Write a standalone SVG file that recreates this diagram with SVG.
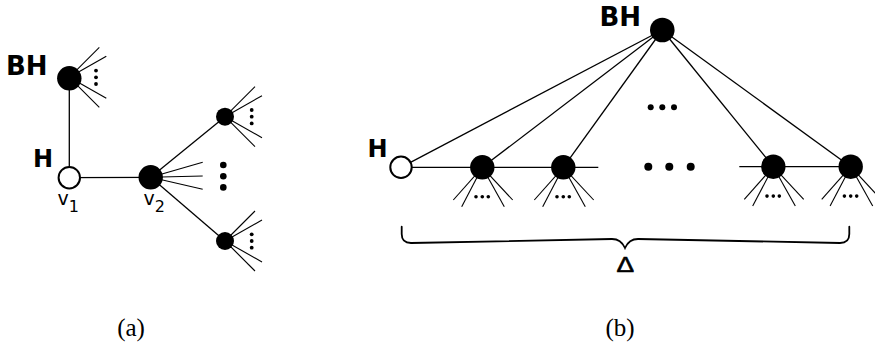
<svg xmlns="http://www.w3.org/2000/svg" width="875" height="344" viewBox="0 0 875 344">
  <style>
    .edge { stroke: #000; stroke-width: 1.3; fill: none; }
    .fan { stroke: #000; stroke-width: 1.1; fill: none; }
    .node { fill: #000; }
    .hole { fill: #fff; stroke: #000; stroke-width: 2; }
    .dot { fill: #000; }
    .lbl { font-family: "DejaVu Sans", sans-serif; font-weight: bold; font-size: 26px; fill: #000; }
    .lblh { font-family: "DejaVu Sans", sans-serif; font-weight: bold; font-size: 24px; fill: #000; }
    .vl { font-family: "DejaVu Sans", sans-serif; font-size: 19px; fill: #000; }
    .sub { font-family: "DejaVu Sans", sans-serif; font-size: 16px; fill: #000; }
    .cap { font-family: "Liberation Serif", serif; font-size: 25px; fill: #000; }
    .brace { stroke: #000; stroke-width: 1.8; fill: none; stroke-linecap: round; }
    .delta { font-family: "Liberation Sans", sans-serif; font-size: 22px; fill: #000; stroke: #000; stroke-width: 0.6; }
  </style>
  <defs>
    <!-- fan of four half-edges opening to the right, with a vertical ellipsis -->
    <g id="fanR">
      <line class="fan" x1="0" y1="0" x2="30" y2="-30"/>
      <line class="fan" x1="0" y1="0" x2="37" y2="-21"/>
      <line class="fan" x1="0" y1="0" x2="37" y2="21"/>
      <line class="fan" x1="0" y1="0" x2="30" y2="30"/>
      <circle class="dot" cx="26.7" cy="-6.7" r="1.9"/>
      <circle class="dot" cx="26.7" cy="0" r="1.9"/>
      <circle class="dot" cx="26.7" cy="6.7" r="1.9"/>
    </g>
    <!-- fan of four half-edges opening downward, with a horizontal ellipsis -->
    <g id="fanD">
      <line class="fan" x1="0" y1="0" x2="-29" y2="32.7"/>
      <line class="fan" x1="0" y1="0" x2="-20.6" y2="39.4"/>
      <line class="fan" x1="0" y1="0" x2="22" y2="39.4"/>
      <line class="fan" x1="0" y1="0" x2="30.4" y2="32.7"/>
      <circle class="dot" cx="-6.3" cy="29.4" r="1.8"/>
      <circle class="dot" cx="0" cy="29.4" r="1.8"/>
      <circle class="dot" cx="6" cy="29.4" r="1.8"/>
    </g>
  </defs>

  <!-- (a) connectors -->
  <g id="edges-a">
    <line class="edge" x1="69.3" y1="78.3" x2="69.3" y2="177.7"/>
    <line class="edge" x1="69.3" y1="177.7" x2="150.7" y2="177.3"/>
    <line class="edge" x1="150.7" y1="177.3" x2="225" y2="116.7"/>
    <line class="edge" x1="150.7" y1="177.3" x2="225" y2="241"/>
    <line class="fan" x1="150.7" y1="177.3" x2="202.7" y2="162.3"/>
    <line class="fan" x1="150.7" y1="177.3" x2="202.7" y2="176"/>
    <line class="fan" x1="150.7" y1="177.3" x2="202.7" y2="189.3"/>
    <use href="#fanR" x="69.3" y="77.3"/>
    <use href="#fanR" x="225" y="116.7"/>
    <use href="#fanR" x="225" y="241"/>
  </g>

  <!-- (a) nodes -->
  <g id="a-bh">
    <circle class="node" cx="69.3" cy="78.3" r="12.2"/>
    <text class="lbl" x="6" y="75">BH</text>
  </g>
  <g id="a-v1">
    <circle class="hole" cx="69.3" cy="177.7" r="10.7"/>
    <text class="lblh" x="33" y="167">H</text>
    <text class="vl" x="57.5" y="205">v<tspan class="sub" dy="6.5">1</tspan></text>
  </g>
  <g id="a-v2">
    <circle class="node" cx="150.7" cy="177.3" r="12.2"/>
    <text class="vl" x="143.5" y="205">v<tspan class="sub" dy="6.5">2</tspan></text>
  </g>
  <g id="a-c1">
    <circle class="node" cx="225" cy="116.7" r="9"/>
  </g>
  <g id="a-c2">
    <circle class="node" cx="225" cy="241" r="9"/>
  </g>
  <g id="a-more">
    <circle class="dot" cx="223.3" cy="165" r="3.3"/>
    <circle class="dot" cx="223.3" cy="176.2" r="3.3"/>
    <circle class="dot" cx="223.3" cy="187.4" r="3.3"/>
  </g>

  <!-- (b) connectors -->
  <g id="edges-b">
    <line class="edge" x1="662.3" y1="30" x2="401" y2="167.3"/>
    <line class="edge" x1="662.3" y1="30" x2="482.3" y2="167.3"/>
    <line class="edge" x1="662.3" y1="30" x2="563.3" y2="167.3"/>
    <line class="edge" x1="662.3" y1="30" x2="773.3" y2="166.7"/>
    <line class="edge" x1="662.3" y1="30" x2="850.7" y2="166.7"/>
    <line class="edge" x1="401" y1="167.3" x2="598.3" y2="167.3"/>
    <line class="edge" x1="739.3" y1="166.7" x2="850.7" y2="166.7"/>
    <use href="#fanD" x="482.3" y="167.3"/>
    <use href="#fanD" x="563.3" y="167.3"/>
    <use href="#fanD" x="773.3" y="166.7"/>
    <use href="#fanD" x="850.7" y="166.7"/>
  </g>

  <!-- (b) nodes -->
  <g id="b-bh">
    <circle class="node" cx="662.3" cy="30" r="12.3"/>
    <text class="lbl" x="599.5" y="25.5">BH</text>
  </g>
  <g id="b-h">
    <circle class="hole" cx="401" cy="167.3" r="10.7"/>
    <text class="lblh" x="367.5" y="157">H</text>
  </g>
  <g id="b-n1"><circle class="node" cx="482.3" cy="167.3" r="12.2"/></g>
  <g id="b-n2"><circle class="node" cx="563.3" cy="167.3" r="12.2"/></g>
  <g id="b-n3"><circle class="node" cx="773.3" cy="166.7" r="12.2"/></g>
  <g id="b-n4"><circle class="node" cx="850.7" cy="166.7" r="12.2"/></g>
  <g id="b-more">
    <circle class="dot" cx="650.7" cy="107.3" r="3"/>
    <circle class="dot" cx="662.3" cy="107.3" r="3"/>
    <circle class="dot" cx="674" cy="107.3" r="3"/>
    <circle class="dot" cx="648.3" cy="166.7" r="4"/>
    <circle class="dot" cx="669.3" cy="166.7" r="4"/>
    <circle class="dot" cx="690.7" cy="166.7" r="4"/>
  </g>

  <!-- brace under the path, labelled with its length -->
  <g id="b-brace">
    <path class="brace" d="M401.7,226.7 V234 Q401.7,243 411,243 L612,239 Q621,239 625,248 Q629,239 638,239 L840,243 Q849.3,243 849.3,234 V226.7"/>
    <text class="delta" x="0" y="0" transform="translate(625.2,272.2) scale(1.2,1)" text-anchor="middle">Δ</text>
  </g>

  <!-- sub-figure captions -->
  <text class="cap" x="131" y="336" text-anchor="middle">(a)</text>
  <text class="cap" x="620" y="336" text-anchor="middle">(b)</text>
</svg>
